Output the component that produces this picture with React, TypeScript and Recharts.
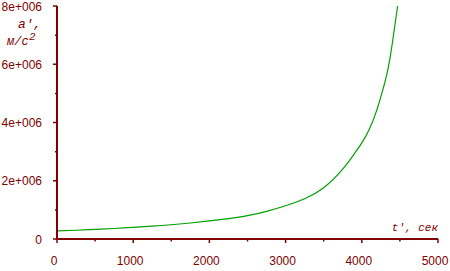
import React from "react";
import { LineChart, Line, XAxis, YAxis } from "recharts";

const times = [0, 250, 500, 750, 1000, 1250, 1500, 1750, 2000, 2250, 2500, 2750, 3000, 3250, 3500, 3750, 3900, 4000, 4100, 4200, 4300, 4370, 4470];
const accel = [0.28e6, 0.30e6, 0.33e6, 0.36e6, 0.40e6, 0.44e6, 0.49e6, 0.55e6, 0.62e6, 0.70e6, 0.80e6, 0.95e6, 1.14e6, 1.38e6, 1.76e6, 2.40e6, 2.92e6, 3.30e6, 3.78e6, 4.45e6, 5.35e6, 6.2e6, 8.0e6];

const xTicks = [0, 500, 1000, 1500, 2000, 2500, 3000, 3500, 4000, 4500, 5000];
const xMajor = [0, 1000, 2000, 3000, 4000, 5000];
const yTicks = [0, 1e6, 2e6, 3e6, 4e6, 5e6, 6e6, 7e6, 8e6];
const yMajor = [0, 2e6, 4e6, 6e6, 8e6];
const yLabels: Record<number, string> = { 0: "0", 2000000: "2e+006", 4000000: "4e+006", 6000000: "6e+006", 8000000: "8e+006" };

const data = times.map((t, i) => ({ t, a: accel[i] }));

const AXIS = "#800000";
const FONT = "'Liberation Sans', Arial, sans-serif";
const IFONT = "'Liberation Mono', 'DejaVu Sans Mono', monospace";

const YTick = (props: any) => {
  const { x, y, payload } = props;
  const major = yMajor.includes(payload.value);
  return (
    <g>
      <line x1={x - (major ? 4 : 2)} x2={x} y1={y} y2={y} stroke={AXIS} strokeWidth={1.5} />
      {major && (
        <text x={x - 15} y={y + 4.5} textAnchor="end" fill={AXIS} fontSize={12} fontFamily={FONT}>
          {yLabels[payload.value]}
        </text>
      )}
    </g>
  );
};

const XTick = (props: any) => {
  const { x, y, payload } = props;
  const major = xMajor.includes(payload.value);
  return (
    <g>
      <line x1={x} x2={x} y1={y} y2={y + (major ? 4 : 2.5)} stroke={AXIS} strokeWidth={1.5} />
      {major && (
        <text x={x - 3} y={y + 26} textAnchor="middle" fill={AXIS} fontSize={12} fontFamily={FONT}>
          {String(payload.value)}
        </text>
      )}
    </g>
  );
};

export default function App() {
  return (
    <div style={{ position: "absolute", left: 0, top: 0, width: 450, height: 271, background: "#fff" }}>
      <LineChart width={450} height={271} data={data} margin={{ top: 6, right: 12, left: 0, bottom: 0 }}>
        <XAxis
          dataKey="t"
          type="number"
          domain={[0, 5000]}
          ticks={xTicks}
          interval={0}
          height={32}
          tickSize={0}
          tickMargin={0}
          tickLine={false}
          axisLine={{ stroke: AXIS, strokeWidth: 2 }}
          tick={<XTick />}
        />
        <YAxis
          type="number"
          domain={[0, 8e6]}
          ticks={yTicks}
          interval={0}
          width={57}
          tickSize={0}
          tickMargin={0}
          tickLine={false}
          axisLine={{ stroke: AXIS, strokeWidth: 2 }}
          tick={<YTick />}
        />
        <Line type="natural" dataKey="a" stroke="#00a000" strokeWidth={1.2} dot={false} isAnimationActive={false} />
        <text x={18} y={28} fill={AXIS} fontSize={13} fontStyle="italic" fontFamily={IFONT}>a',</text>
        <text x={7} y={45} fill={AXIS} fontSize={12} fontStyle="italic" fontFamily={IFONT}>м/с</text>
        <text x={29} y={40} fill={AXIS} fontSize={11} fontStyle="italic" fontFamily={IFONT}>2</text>
        <text x={438} y={231} textAnchor="end" fill={AXIS} fontSize={11} fontStyle="italic" fontFamily={IFONT}>t', сек</text>
      </LineChart>
    </div>
  );
}
